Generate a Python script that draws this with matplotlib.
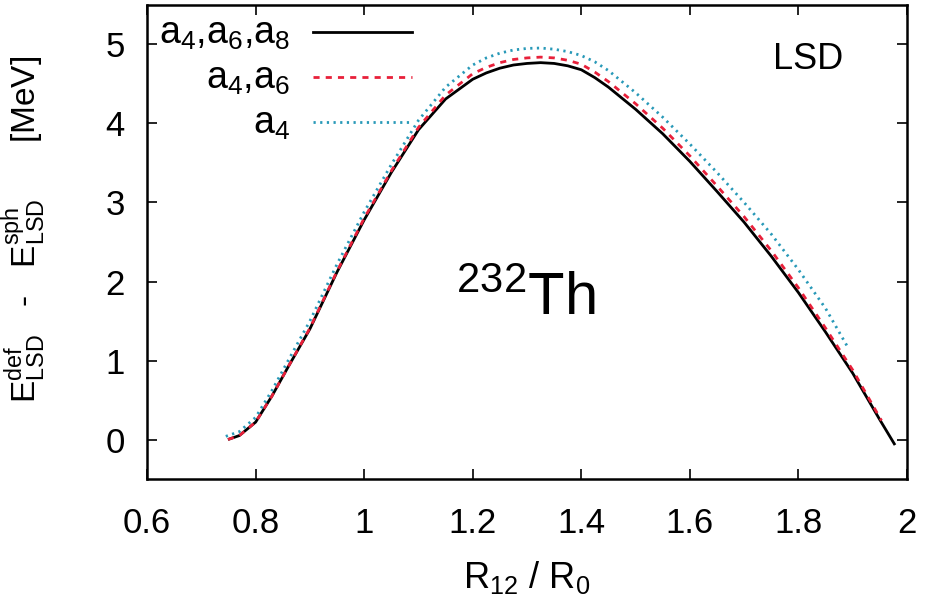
import numpy as np
import matplotlib
matplotlib.use('Agg')
import matplotlib.pyplot as plt

plt.rcParams['font.family'] = ['Liberation Sans', 'DejaVu Sans']
plt.rcParams['mathtext.fontset'] = 'custom'
plt.rcParams['mathtext.rm'] = 'Liberation Sans'
plt.rcParams['mathtext.it'] = 'Liberation Sans:italic'

# R12/R0 and deformation energy (MeV)
x_a468 = [0.749, 0.77, 0.80, 0.83, 0.86, 0.90, 0.95, 1.00, 1.05, 1.10, 1.15, 1.20,
          1.225, 1.25, 1.275, 1.30, 1.325, 1.35, 1.375, 1.40, 1.425, 1.45, 1.50,
          1.55, 1.60, 1.65, 1.70, 1.75, 1.80, 1.85, 1.90, 1.95, 1.978]
e_a468 = [0.0, 0.05, 0.22, 0.55, 0.92, 1.40, 2.12, 2.78, 3.38, 3.92, 4.31, 4.56,
          4.64, 4.70, 4.74, 4.76, 4.77, 4.76, 4.73, 4.68, 4.58, 4.46, 4.18,
          3.87, 3.52, 3.14, 2.75, 2.32, 1.86, 1.36, 0.84, 0.25, -0.07]

x_a46 = [0.749, 0.77, 0.80, 0.83, 0.86, 0.90, 0.95, 1.00, 1.05, 1.10, 1.15, 1.20,
         1.225, 1.25, 1.275, 1.30, 1.325, 1.35, 1.375, 1.40, 1.425, 1.45, 1.50,
         1.55, 1.60, 1.65, 1.70, 1.75, 1.80, 1.85, 1.90, 1.953]
e_a46 = [0.0, 0.05, 0.22, 0.55, 0.92, 1.41, 2.13, 2.80, 3.40, 3.95, 4.36, 4.63,
         4.71, 4.77, 4.81, 4.83, 4.84, 4.83, 4.80, 4.75, 4.65, 4.53, 4.25,
         3.94, 3.59, 3.21, 2.82, 2.39, 1.92, 1.41, 0.88, 0.24]

x_a4 = [0.745, 0.77, 0.80, 0.83, 0.86, 0.90, 0.95, 1.00, 1.05, 1.10, 1.15, 1.20,
        1.225, 1.25, 1.275, 1.30, 1.325, 1.35, 1.375, 1.40, 1.425, 1.45, 1.50,
        1.55, 1.60, 1.65, 1.70, 1.75, 1.80, 1.85, 1.89]
e_a4 = [0.04, 0.10, 0.28, 0.62, 1.00, 1.50, 2.22, 2.88, 3.48, 4.04, 4.46, 4.74,
        4.83, 4.89, 4.93, 4.95, 4.955, 4.94, 4.91, 4.86, 4.78, 4.67, 4.39,
        4.08, 3.74, 3.38, 3.00, 2.60, 2.15, 1.66, 1.18]

fig = plt.figure(figsize=(9.25, 5.99), dpi=100)
ax = fig.add_axes([0.159, 0.2003, 0.8215, 0.7914])

red = '#e8203a'
blue = '#2899b8'
ax.plot(x_a468, e_a468, color='black', lw=2.0, solid_capstyle='butt')
ax.plot(x_a46, e_a46, color=red, lw=2.0, dashes=(2.2, 2.2))
ax.plot(x_a4, e_a4, color=blue, lw=2.0, dashes=(0.8, 1.6))

# gnuplot-style key: right-aligned labels, sample to the right
labels = [r'a$_4$,a$_6$,a$_8$', r'a$_4$,a$_6$', r'a$_4$']
styles = [dict(color='black'), dict(color=red, dashes=(2.2, 2.2)),
          dict(color=blue, dashes=(0.8, 1.6))]
for i, (lab, st) in enumerate(zip(labels, styles)):
    yl = 0.943 - 0.095 * i
    ax.plot([0.218, 0.349], [yl, yl], transform=ax.transAxes, lw=2.0, **st)
    ax.text(0.188, yl - 0.024, lab, transform=ax.transAxes, ha='right',
            va='baseline', fontsize=27)

ax.text(0.870, 0.884, 'LSD', transform=ax.transAxes, ha='center', va='center',
        fontsize=26)
ax.text(0.499, 0.346, r'$^{232}$Th', transform=ax.transAxes, ha='center',
        va='baseline', fontsize=43)

ax.set_xlim(0.6, 2.0)
ax.set_ylim(-0.5, 5.5)
ax.set_xticks([0.6, 0.8, 1.0, 1.2, 1.4, 1.6, 1.8, 2.0])
ax.set_xticklabels(['0.6', '0.8', '1', '1.2', '1.4', '1.6', '1.8', '2'])
ax.set_yticks([0, 1, 2, 3, 4, 5])
ax.tick_params(direction='in', length=7, width=1.2, top=True, right=True,
               labelsize=25)
ax.tick_params(axis='x', pad=20)
ax.tick_params(axis='y', pad=16)
for s in ax.spines.values():
    s.set_linewidth(1.8)

ax.set_xlabel(r'R$_{12}$ / R$_0$', fontsize=26)
ax.xaxis.set_label_coords(0.5, -0.168)
ax.set_ylabel(r'E$^{\mathrm{def}}_{\mathrm{LSD}}$   -   E$^{\mathrm{sph}}_{\mathrm{LSD}}$      [MeV]',
              fontsize=24)
ax.yaxis.set_label_coords(-0.13, 0.527)

fig.savefig('out.png', dpi=100)
